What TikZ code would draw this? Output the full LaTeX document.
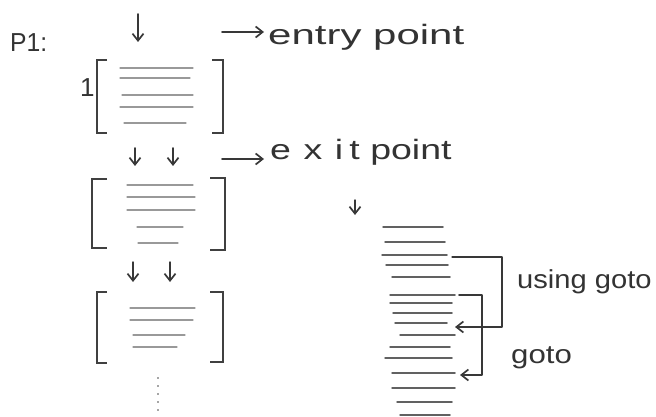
\documentclass[tikz,border=0pt]{standalone}
\usepackage{fontspec}
\setmainfont{Liberation Sans}
\usetikzlibrary{arrows.meta}
\begin{document}
\begin{tikzpicture}[x=1pt,y=-1pt,
  pencil/.style={draw=black!78, line width=1.7pt, line cap=round, line join=round},
  bracket/.style={draw=black!75, line width=2.4pt, line join=miter},
  codeline/.style={draw=black!40, line width=1.2pt, line cap=round},
  stackline/.style={draw=black!62, line width=1.5pt, line cap=round},
  arr/.style={pencil, -{Straight Barb[length=7pt,width=11pt,line width=1.7pt]}},
  hand/.style={font=\fontsize{28}{30}\selectfont, text=black!80, inner sep=0pt, anchor=base west}]
\useasboundingbox (0,0) rectangle (656,417);

% labels
\node[hand, font=\fontsize{26}{28}\selectfont] (p1) at (10,52) {\scalebox{0.95}[1]{P1:}};
\node[hand] (entry) at (268,45) {\scalebox{1.5}[1]{entry point}};
\node[hand] (exit) at (270,160) {\scalebox{1.34}[1]{e\,\,x\,\,i\,t\ point}};
\node[hand, font=\fontsize{26}{28}\selectfont] (using) at (517,288) {\scalebox{1.12}[1]{using goto}};
\node[hand, font=\fontsize{26}{28}\selectfont] (gotolab) at (511,363) {\scalebox{1.2}[1]{goto}};
\node[hand, font=\fontsize{26}{28}\selectfont] (one) at (80,97) {1};

% block 1
\draw[bracket] (107,60) -- (97,60) -- (97,133) -- (107,133);
\draw[bracket] (212,60) -- (223,60) -- (223,133) -- (212,133);
\foreach \y/\a/\b in {68/120/193, 78/120/190, 95/122/193, 107/120/193, 123/124/186}
  \draw[codeline] (\a,\y) -- (\b,\y);

% block 2
\draw[bracket] (107,179) -- (92,179) -- (92,248) -- (107,248);
\draw[bracket] (210,178) -- (225,178) -- (225,250) -- (210,250);
\foreach \y/\a/\b in {185/127/193, 197/127/195, 210/127/195, 227/137/183, 243/138/178}
  \draw[codeline] (\a,\y) -- (\b,\y);

% block 3
\draw[bracket] (107,292) -- (97,292) -- (97,363) -- (107,363);
\draw[bracket] (210,292) -- (223,292) -- (223,362) -- (210,362);
\foreach \y/\a/\b in {308/130/195, 320/130/193, 335/133/185, 347/133/177}
  \draw[codeline] (\a,\y) -- (\b,\y);
\draw[draw=black!35, line width=1.2pt, dash pattern=on 2pt off 6pt] (158,377) -- (158,417);

% arrows
\coordinate (e1s) at (138,14); \coordinate (e1e) at (138,42);
\draw[arr] (e1s) -- (e1e);
\coordinate (en1) at (222,32); \coordinate (en2) at (264,32);
\draw[arr] (en1) -- (en2);
\coordinate (a1s) at (135,148); \coordinate (a1e) at (135,166);
\coordinate (a2s) at (173,148); \coordinate (a2e) at (173,166);
\draw[arr] (a1s) -- (a1e);
\draw[arr] (a2s) -- (a2e);
\coordinate (ex1) at (222,159); \coordinate (ex2) at (264,159);
\draw[arr] (ex1) -- (ex2);
\coordinate (b1s) at (133,262); \coordinate (b1e) at (133,282);
\coordinate (b2s) at (170,262); \coordinate (b2e) at (170,282);
\draw[arr, line width=1.4pt] (b1s) -- (b1e);
\draw[arr, line width=1.4pt] (b2s) -- (b2e);
\coordinate (r1s) at (355,200); \coordinate (r1e) at (355,215);
\draw[arr, line width=1.4pt] (r1s) -- (r1e);

% stack of code lines
\foreach \y/\a/\b in {227/383/443, 242/385/445, 255/382/447, 265/386/448, 277/392/450,
  295/390/455, 303/390/452, 313/393/452, 323/395/447, 335/400/455, 347/390/450,
  358/385/452, 373/392/455, 388/392/455, 402/397/452, 415/400/450}
  \draw[stackline] (\a,\y) -- (\b,\y);

% goto connectors
\coordinate (g1s) at (452,257); \coordinate (g1c1) at (502,257);
\coordinate (g1c2) at (502,327); \coordinate (g1e) at (455,327);
\draw[arr, line width=1.3pt] (g1s) -- (g1c1) -- (g1c2) -- (g1e);
\coordinate (g2s) at (459,295); \coordinate (g2c1) at (482,295);
\coordinate (g2c2) at (482,375); \coordinate (g2e) at (460,375);
\draw[arr, line width=1.6pt] (g2s) -- (g2c1) -- (g2c2) -- (g2e);
\end{tikzpicture}
\end{document}
